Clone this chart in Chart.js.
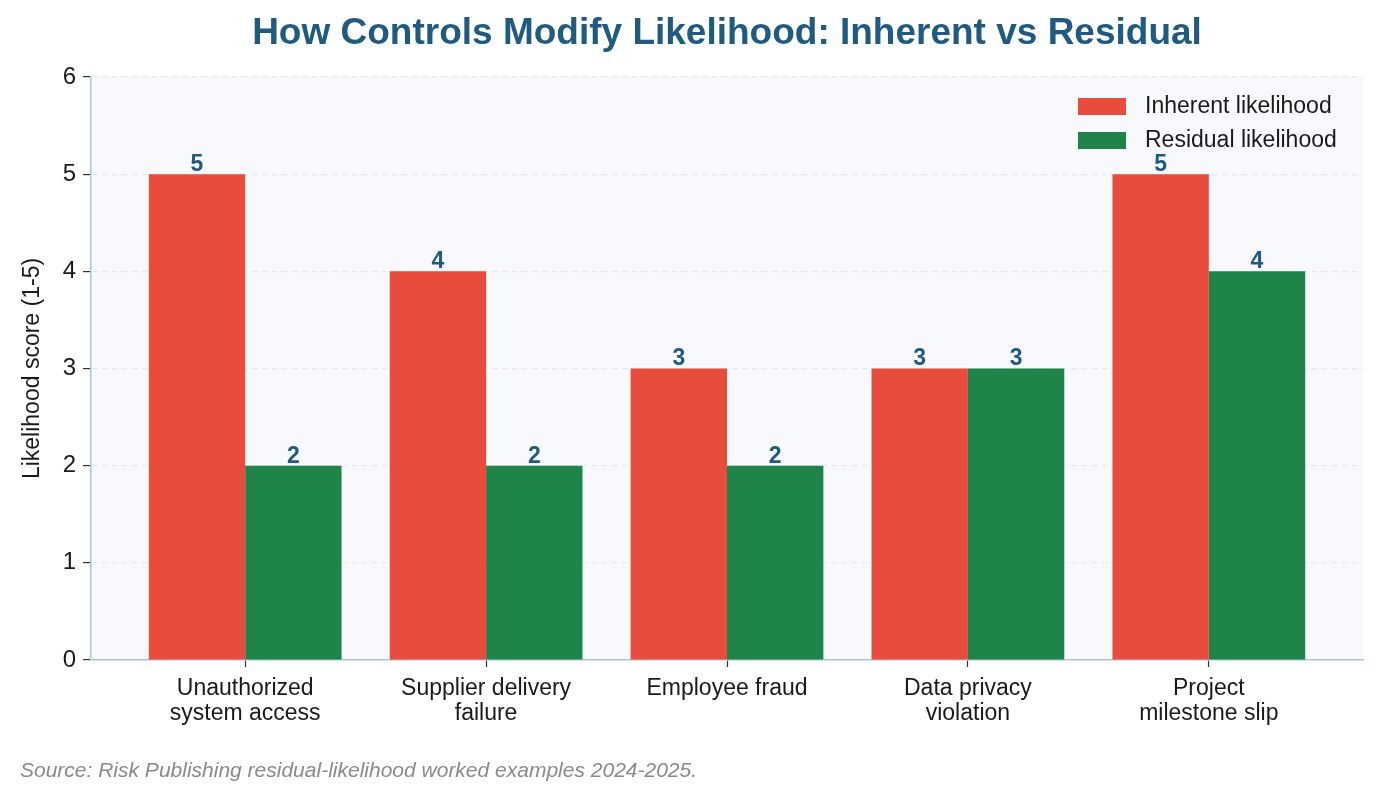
<!DOCTYPE html>
<html><head><meta charset="utf-8">
<script src="https://cdn.jsdelivr.net/npm/chart.js@4/dist/chart.umd.min.js"></script>
<style>html,body{margin:0;padding:0;background:#fff}#wrap{width:1381px;height:800px;position:relative}</style>
</head><body><div id="wrap"><canvas id="c" width="1381" height="800"></canvas></div>
<script>
const categories = [["Unauthorized","system access"],["Supplier delivery","failure"],["Employee fraud"],["Data privacy","violation"],["Project","milestone slip"]];
const inherent = [5, 4, 3, 3, 5];
const residual = [2, 2, 2, 3, 4];
const yTicks = [0,1,2,3,4,5,6];
const titleText = "How Controls Modify Likelihood: Inherent vs Residual";
const sourceText = "Source: Risk Publishing residual-likelihood worked examples 2024-2025.";
const FONT = "'Liberation Sans', Arial, Helvetica, sans-serif";

const decor = {
  id:'decor',
  beforeDraw(chart){
    const {ctx, chartArea:a} = chart;
    ctx.save();
    ctx.fillStyle = '#f8f9fc';
    ctx.fillRect(a.left, a.top, a.right-a.left, a.bottom-a.top);
    ctx.restore();
  },
  afterDraw(chart){
    const {ctx} = chart;
    ctx.save();
    ctx.fillStyle = '#1f5a80';
    ctx.font = "bold 37px " + FONT;
    ctx.textAlign = 'center'; ctx.textBaseline = 'middle';
    ctx.fillText(titleText, 727, 34);
    ctx.fillStyle = '#8a8a8a';
    ctx.font = "italic 21px " + FONT;
    ctx.textAlign = 'left';
    ctx.fillText(sourceText, 20, 771);
    ctx.font = "bold 23px " + FONT;
    ctx.fillStyle = '#1f5a80';
    ctx.textAlign = 'center'; ctx.textBaseline = 'bottom';
    chart.data.datasets.forEach((ds, i) => {
      const meta = chart.getDatasetMeta(i);
      meta.data.forEach((bar, j) => {
        ctx.fillText(String(ds.data[j].y), bar.x, bar.y + 2);
      });
    });
    const lx = 1078, ly = [106, 140];
    chart.data.datasets.forEach((ds, i) => {
      ctx.fillStyle = ds.backgroundColor;
      ctx.fillRect(lx, ly[i]-8, 48, 17);
      ctx.fillStyle = '#1a1a1a';
      ctx.font = "23px " + FONT;
      ctx.textAlign = 'left'; ctx.textBaseline = 'middle';
      ctx.fillText(ds.label, lx + 67, ly[i] + 1);
    });
    ctx.restore();
  }
};

const pts = arr => arr.map((v, i) => ({x: i, y: v}));

new Chart(document.getElementById('c'), {
  type: 'bar',
  data: {
    datasets: [
      {label:'Inherent likelihood', data: pts(inherent), backgroundColor:'#e74c3c', categoryPercentage:0.8, barPercentage:1},
      {label:'Residual likelihood', data: pts(residual), backgroundColor:'#1e8449', categoryPercentage:0.8, barPercentage:1}
    ]
  },
  options: {
    responsive:false, animation:false,
    layout:{padding:{top:77, right:18, left:19, bottom:0}},
    plugins:{legend:{display:false}, title:{display:false}, tooltip:{enabled:false}},
    scales:{
      x:{
        type:'linear', min:-0.64, max:4.64, offset:false,
        afterFit(s){ s.height = 140; },
        afterBuildTicks(s){ s.ticks = categories.map((c, i) => ({value:i})); },
        border:{color:'#a9c4de', width:1.5},
        grid:{offset:false, drawOnChartArea:false, drawTicks:true, tickLength:7, tickColor:'#333', tickWidth:1.2},
        ticks:{color:'#1a1a1a', font:{family:FONT, size:23, lineHeight:1.05}, padding:10, maxRotation:0, autoSkip:false,
          callback:(v) => categories[v]}
      },
      y:{
        min:0, max:6,
        afterFit(s){ s.width = 72; },
        afterBuildTicks(s){ s.ticks = yTicks.map(v=>({value:v})); },
        border:{color:'#a9c4de', width:1.5, dash:[6,4]},
        grid:{color:(c)=> c.tick && c.tick.value===0 ? 'rgba(0,0,0,0)' : '#e4e9f1', lineWidth:1.2, drawTicks:true, tickLength:8, tickColor:'#333', tickWidth:1.2, tickBorderDash:[]},
        ticks:{color:'#1a1a1a', font:{family:FONT, size:24}, padding:7},
        title:{display:true, text:'Likelihood score (1-5)', color:'#1a1a1a', font:{family:FONT, size:23}, padding:{top:0,bottom:6}}
      }
    }
  },
  plugins:[decor]
});
</script></body></html>
